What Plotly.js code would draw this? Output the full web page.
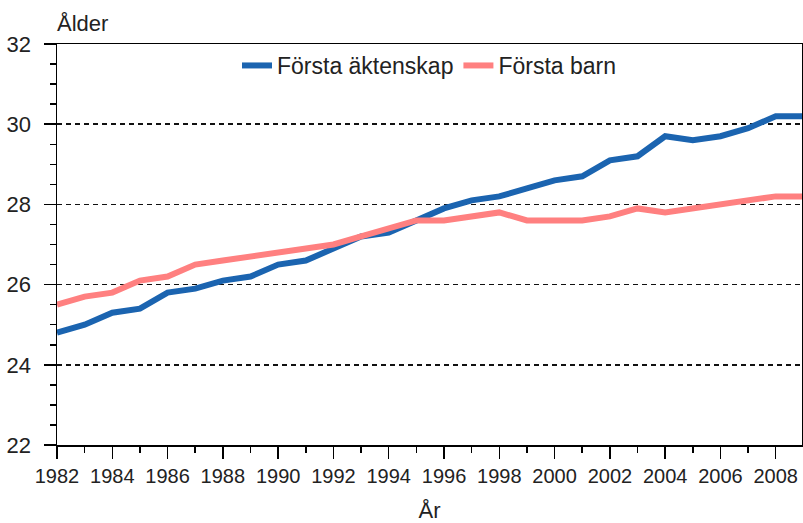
<!DOCTYPE html>
<html>
<head>
<meta charset="utf-8">
<script src="https://cdn.plot.ly/plotly-3.0.1.min.js"></script>
<style>
html,body{margin:0;padding:0;background:#fff;}
#chart{width:803px;height:523px;}
</style>
</head>
<body>
<div id="chart"></div>
<script>
const years = [1982,1983,1984,1985,1986,1987,1988,1989,1990,1991,1992,1993,1994,1995,1996,1997,1998,1999,2000,2001,2002,2003,2004,2005,2006,2007,2008,2009];
const forstaAktenskap = [24.8,25.0,25.3,25.4,25.8,25.9,26.1,26.2,26.5,26.6,26.9,27.2,27.3,27.6,27.9,28.1,28.2,28.4,28.6,28.7,29.1,29.2,29.7,29.6,29.7,29.9,30.2,30.2];
const forstaBarn = [25.5,25.7,25.8,26.1,26.2,26.5,26.6,26.7,26.8,26.9,27.0,27.2,27.4,27.6,27.6,27.7,27.8,27.6,27.6,27.6,27.7,27.9,27.8,27.9,28.0,28.1,28.2,28.2];
const seriesNames = ["Första äktenskap","Första barn"];
const yTitle = "Ålder";
const xTitle = "År";

const FONT = "Liberation Sans, Arial, sans-serif";

const traces = [
  {x: years, y: forstaAktenskap, name: seriesNames[0], type: "scatter", mode: "lines",
   line: {color: "#1b64b0", width: 6}},
  {x: years, y: forstaBarn, name: seriesNames[1], type: "scatter", mode: "lines",
   line: {color: "#ff8080", width: 6}}
];

const layout = {
  width: 803, height: 523,
  margin: {l: 57, r: 1, t: 44, b: 78},
  paper_bgcolor: "#fff", plot_bgcolor: "#fff",
  font: {family: FONT, color: "#222"},
  showlegend: true,
  legend: {orientation: "h", x: 0.5, xanchor: "center", y: 1.0, yanchor: "top",
           font: {family: FONT, size: 23, color: "#222"}, bgcolor: "rgba(0,0,0,0)",
           itemwidth: 30, tracegroupgap: 0},
  xaxis: {
    range: [1982, 2008.95], tick0: 1982, dtick: 2,
    ticks: "outside", ticklen: 12, tickwidth: 1.5, tickcolor: "#000",
    minor: {dtick: 1, ticks: "outside", ticklen: 6, tickwidth: 1.5, tickcolor: "#000", showgrid: false},
    showline: true, linecolor: "#000", linewidth: 1.5, mirror: true,
    showgrid: false, zeroline: false,
    tickfont: {family: FONT, size: 20, color: "#222"},
    title: {text: xTitle, font: {family: FONT, size: 22, color: "#222"}, standoff: 20}
  },
  yaxis: {
    range: [22, 32], tick0: 22, dtick: 2,
    ticks: "outside", ticklen: 12, tickwidth: 1.5, tickcolor: "#000",
    minor: {dtick: 0.5, ticks: "outside", ticklen: 6, tickwidth: 1.5, tickcolor: "#000", showgrid: false},
    showline: true, linecolor: "#000", linewidth: 1.5, mirror: true,
    showgrid: true, gridcolor: "#111", gridwidth: 1.6, griddash: "5px,4px",
    zeroline: false,
    tickfont: {family: FONT, size: 22, color: "#222"},
    ticklabelstandoff: 8
  },
  annotations: [
    {text: yTitle, xref: "paper", yref: "paper", x: 0, y: 1, xanchor: "left", yanchor: "bottom",
     yshift: 6, xshift: -2, showarrow: false, font: {family: FONT, size: 22, color: "#222"}}
  ]
};

Plotly.newPlot("chart", traces, layout, {displayModeBar: false, staticPlot: true});
</script>
</body>
</html>
